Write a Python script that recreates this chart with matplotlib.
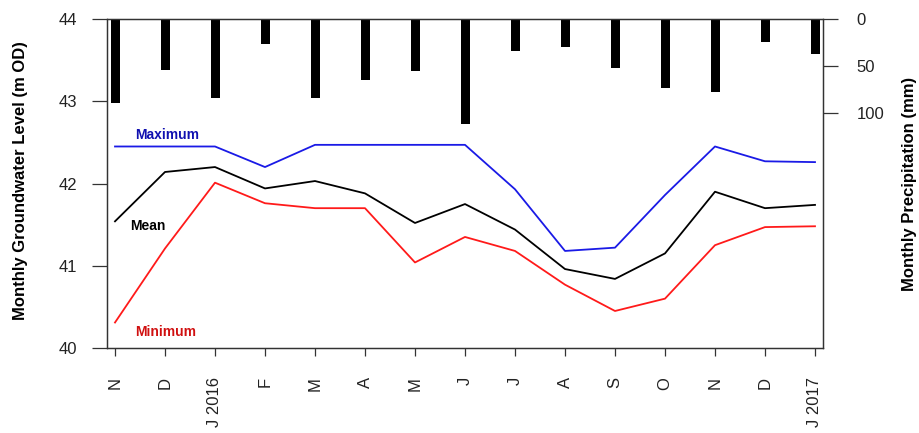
import numpy as np
import matplotlib.pyplot as plt

plt.rcParams['font.family'] = ['Liberation Sans', 'DejaVu Sans']

# month labels, Nov 2015 to Jan 2017
months = ['N', 'D', 'J 2016', 'F', 'M', 'A', 'M', 'J', 'J', 'A', 'S', 'O', 'N', 'D', 'J 2017']

# groundwater levels (m OD)
gw_max = [42.45, 42.45, 42.45, 42.20, 42.47, 42.47, 42.47, 42.47, 41.93, 41.18, 41.22, 41.86, 42.45, 42.27, 42.26]
gw_mean = [41.54, 42.14, 42.20, 41.94, 42.03, 41.88, 41.52, 41.75, 41.44, 40.96, 40.84, 41.15, 41.90, 41.70, 41.74]
gw_min = [40.31, 41.21, 42.01, 41.76, 41.70, 41.70, 41.04, 41.35, 41.18, 40.77, 40.45, 40.60, 41.25, 41.47, 41.48]

# monthly precipitation (mm)
precip = [89, 54, 84, 27, 84, 65, 55, 112, 34, 30, 52, 73, 78, 24, 37]

x = np.arange(len(months))

fig = plt.figure(figsize=(9.2, 4.33), dpi=100)
ax = fig.add_axes([107 / 920, 85 / 433, 716 / 920, 329 / 433])

ax.plot(x, gw_max, color='#1a1ae6', lw=1.3)
ax.plot(x, gw_mean, color='black', lw=1.3)
ax.plot(x, gw_min, color='#ff1a1a', lw=1.3)

ax.text(0.4, 42.59, 'Maximum', color='#1010b0', fontsize=10, fontweight='bold', va='center')
ax.text(0.3, 41.48, 'Mean', color='black', fontsize=10, fontweight='bold', va='center')
ax.text(0.4, 40.195, 'Minimum', color='#d01010', fontsize=10, fontweight='bold', va='center')

ax.set_xlim(-0.16, 14.16)
ax.set_ylim(40, 44)
ax.set_yticks([40, 41, 42, 43, 44])
ax.set_xticks(x)
ax.set_xticklabels(months, rotation=90, va='top')
ax.tick_params(axis='both', direction='out', width=0.9, labelsize=12, color='#333333', labelcolor='#222222')
ax.tick_params(axis='x', length=6, pad=15)
ax.tick_params(axis='y', length=11, pad=10.5)
for s in ax.spines.values():
    s.set_color('#333333')
    s.set_linewidth(0.9)
ax.set_ylabel('Monthly Groundwater Level (m OD)', fontsize=12, fontweight='bold',
              ha='center', va='center')
ax.yaxis.set_label_coords(-0.1215, 0.51)

# precipitation bars hanging from the top on a reversed axis
ax2 = ax.twinx()
ax2.bar(x, precip, width=0.18, color='black')
ax2.set_ylim(350, 0)
ax2.set_yticks([0, 50, 100])
ax2.tick_params(axis='y', direction='out', length=11, width=0.9, labelsize=12,
                color='#333333', labelcolor='#222222', pad=13)
for s in ax2.spines.values():
    s.set_color('#333333')
    s.set_linewidth(0.9)
ax2.set_ylabel('Monthly Precipitation (mm)', fontsize=12, fontweight='bold',
               ha='center', va='center')
ax2.yaxis.set_label_coords(1.1205, 0.50)

fig.savefig('out.png', dpi=100)
